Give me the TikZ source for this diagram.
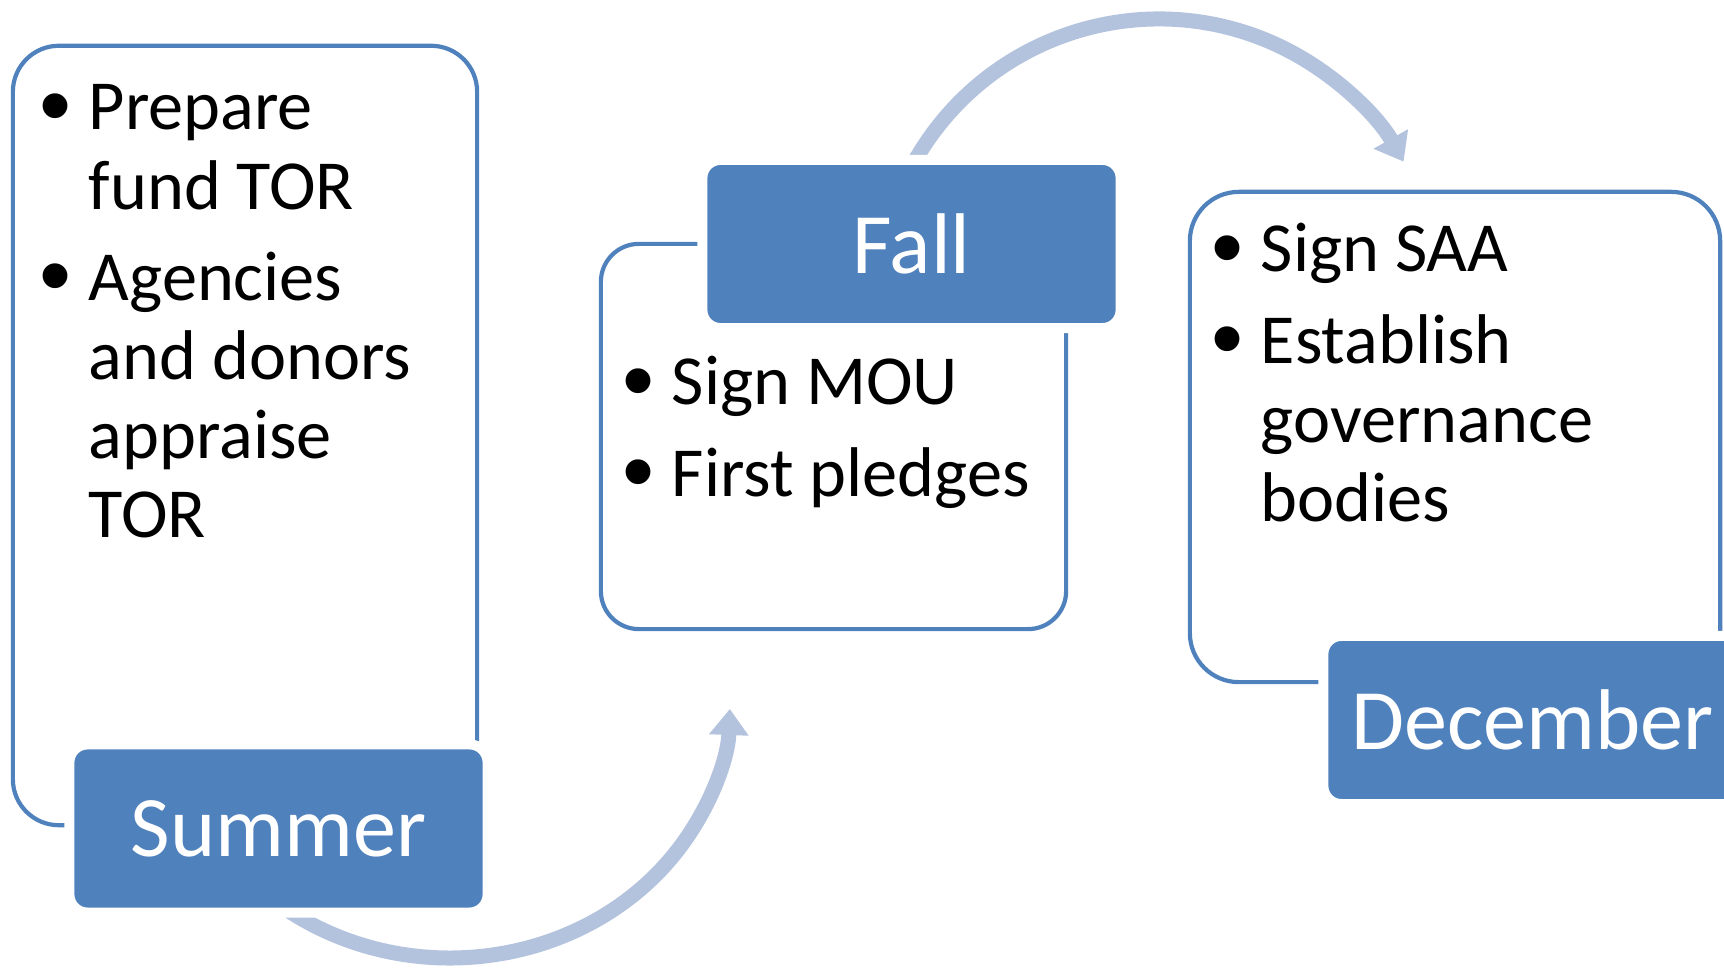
\documentclass[tikz,border=0pt]{standalone}
\usepackage{fontspec}
\setmainfont{Carlito}
\newfontfamily\bulletfont{Liberation Sans}
\usetikzlibrary{arrows.meta}
\definecolor{lblblue}{HTML}{4F81BD}
\definecolor{arrblue}{HTML}{B3C3DD}
\tikzset{
  txtbox/.style={draw=lblblue, fill=white, line width=0.042cm},
  lbl/.style={draw=white, fill=lblblue, line width=0.1cm, rounded corners=0.18cm,
    minimum width=4.18cm, minimum height=1.68cm, inner sep=0pt, text=white,
    font=\fontsize{24.5}{29}\selectfont},
  items/.style={anchor=base west, inner sep=0pt, font=\fontsize{20}{22.5}\selectfont},
  flow/.style={draw=arrblue, line width=0.15cm, -{Triangle[width=0.38cm,length=0.26cm]}},
}
\newcommand{\bul}{\makebox[0.45cm][l]{\hspace{-0.04cm}\raisebox{-1.8pt}{\bulletfont\fontsize{26}{26}\selectfont\textbullet}}}
\begin{document}
\begin{tikzpicture}[x=0.01cm,y=0.01cm]
 \useasboundingbox (0,0) rectangle (1724,973);
 \clip (0,0) rectangle (1724,973);
 % text boxes
 \node[txtbox, rounded corners=0.46cm, minimum width=4.64cm, minimum height=7.79cm] (sumbox) at (245,537.5) {};
 \node[txtbox, rounded corners=0.38cm, minimum width=4.65cm, minimum height=3.85cm] (fallbox) at (833.5,536.5) {};
 \node[txtbox, rounded corners=0.49cm, minimum width=5.30cm, minimum height=4.90cm] (decbox) at (1455,536) {};
 % bullets
 \node[items] (sumtxt) at (43,843) {\begin{tabular}[t]{@{}l@{}l@{}}
   \bul & Prepare\\ & fund TOR\\[3.5pt]
   \bul & Agencies\\ & and donors\\ & appraise\\ & TOR
 \end{tabular}};
 \node[items] (falltxt) at (626,568) {\begin{tabular}[t]{@{}l@{}l@{}}
   \bul & Sign MOU\\[3.5pt]
   \bul & First pledges
 \end{tabular}};
 \node[items] (dectxt) at (1215,701) {\begin{tabular}[t]{@{}l@{}l@{}}
   \bul & Sign SAA\\[3.5pt]
   \bul & Establish\\ & governance\\ & bodies
 \end{tabular}};
 % arrows
 \coordinate (c1) at (450,273);
 \coordinate (c2) at (1159,673);
 \draw[flow] (c1) ++(235:280 and 258) arc[start angle=235, end angle=358, x radius=280, y radius=258];
 \draw[flow] (c2) ++(150:281) arc[start angle=150, end angle=29.5, radius=281];
 % labels
 \node[lbl] (sumlbl) at (278.5,144.5) {Summer};
 \node[lbl] (falllbl) at (911.5,729) {Fall};
 \node[lbl] (declbl) at (1532.5,253) {December};
\end{tikzpicture}
\end{document}
